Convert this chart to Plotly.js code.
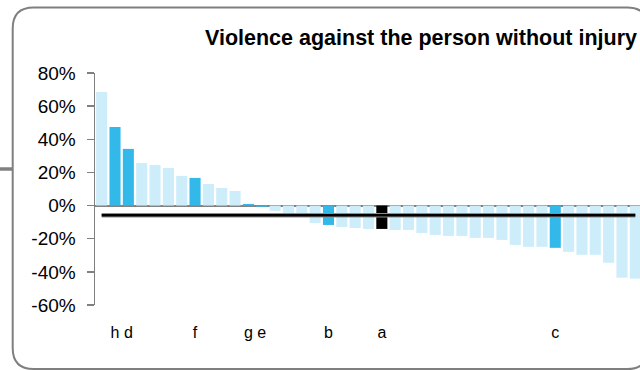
<!DOCTYPE html>
<html>
<head>
<meta charset="utf-8">
<script src="https://cdn.plot.ly/plotly-3.0.1.min.js"></script>
<style>
  html, body { margin: 0; padding: 0; overflow: hidden; background: #fff; }
  #chart { width: 642px; height: 370px; }
</style>
</head>
<body>
<div id="chart"></div>
<script>
// ---- data ----
const titleText = 'Violence against the person without injury';
const labels = ['', 'h', 'd', '', '', '', '', 'f', '', '', '', 'g', 'e', '', '', '', '', 'b', '', '', '',
                'a', '', '', '', '', '', '', '', '', '', '', '', '', 'c', '', '', '', '', '', ''];
const values = [68.6, 47.4, 34.2, 25.7, 24.5, 22.7, 17.9, 16.7, 13.0, 10.6, 8.8, 1.0, -0.7, -3.2,
                -4.5, -5.1, -10.5, -11.7, -12.9, -13.5, -14.1, -14.1, -14.7, -14.7, -16.5, -17.7,
                -18.3, -18.3, -19.5, -19.5, -20.7, -23.7, -24.9, -24.9, -25.5, -27.9, -29.7, -29.7,
                -34.5, -43.5, -44.1];
const selected = ['a'];          // drawn in black
const meanValue = -5.9;
const yTickVals = [-60, -40, -20, 0, 20, 40, 60, 80];

// ---- styling ----
const LIGHT = '#CCEDF9', DARK = '#33B9E9', BLACK = '#000000';
const W = 642, H = 370;
const M = {l: 95, r: 0, t: 73, b: 65};
const pw = W - M.l - M.r, ph = H - M.t - M.b;
const px = x => (x - M.l) / pw;           // pixel -> paper
const py = y => (H - M.b - y) / ph;

const idx = values.map((_, i) => i);
const colors = labels.map(l => l === '' ? LIGHT : (selected.includes(l) ? BLACK : DARK));

const bars = {
  type: 'bar', x: idx, y: values,
  marker: {color: colors, line: {width: 0}},
  hoverinfo: 'skip', showlegend: false
};
const meanX = [idx[0], idx[idx.length - 1]];
const meanHalo = {
  type: 'scatter', mode: 'lines', x: meanX, y: [meanValue, meanValue],
  line: {color: '#8c8c8c', width: 4.5}, hoverinfo: 'skip', showlegend: false
};
const meanLine = {
  type: 'scatter', mode: 'lines', x: meanX, y: [meanValue, meanValue],
  line: {color: '#000', width: 2.5}, hoverinfo: 'skip', showlegend: false
};

// rounded frame (pixel geometry converted to paper)
function framePath() {
  const L = 12.7, T = 7.5, R = 648, B = 369, r = 21;
  const p = (x, y) => px(x).toFixed(5) + ',' + py(y).toFixed(5);
  return 'M' + p(L, T + r) + ' Q' + p(L, T) + ' ' + p(L + r, T) +
         ' L' + p(R - r, T) + ' Q' + p(R, T) + ' ' + p(R, T + r) +
         ' L' + p(R, B - r) + ' Q' + p(R, B) + ' ' + p(R - r, B) +
         ' L' + p(L + r, B) + ' Q' + p(L, B) + ' ' + p(L, B - r) + ' Z';
}

const layout = {
  width: W, height: H,
  margin: M,
  paper_bgcolor: 'rgba(0,0,0,0)', plot_bgcolor: 'rgba(0,0,0,0)',
  font: {family: '"Liberation Sans", Arial, sans-serif', color: '#000'},
  title: {
    text: '<b>' + titleText + '</b>',
    font: {size: 21.5, color: '#000', family: '"Liberation Sans", Arial, sans-serif'},
    xref: 'paper', x: px(421), xanchor: 'center',
    yref: 'container', y: 1 - 37 / H, yanchor: 'middle'
  },
  bargap: 0.17,
  xaxis: {
    range: [-0.5, values.length - 0.5],
    tickmode: 'array', tickvals: idx, ticktext: labels,
    ticks: '', showgrid: false, zeroline: false, showline: false,
    tickfont: {size: 16, color: '#000'},
    ticklabelstandoff: 16, fixedrange: true
  },
  yaxis: {
    range: [-60, 80],
    tickmode: 'array', tickvals: yTickVals,
    ticktext: yTickVals.map(v => v + '%'),
    ticks: 'outside', ticklen: 7, tickwidth: 1.5, tickcolor: '#808080',
    showline: true, linecolor: '#808080', linewidth: 1.5,
    showgrid: false,
    zeroline: true, zerolinecolor: 'rgba(90,90,90,0.75)', zerolinewidth: 2,
    layer: 'above traces',
    tickfont: {size: 19, color: '#000'},
    ticklabelstandoff: 7, fixedrange: true
  },
  shapes: [
    {type: 'path', xref: 'paper', yref: 'paper', path: framePath(),
     line: {color: '#7f7f7f', width: 2}, fillcolor: 'rgba(0,0,0,0)', layer: 'below'},
    {type: 'line', xref: 'paper', yref: 'paper', x0: px(0), x1: px(12.7), y0: py(169), y1: py(169),
     line: {color: '#808080', width: 3.5}}
  ]
};

Plotly.newPlot('chart', [bars, meanHalo, meanLine], layout, {staticPlot: true, displayModeBar: false});
</script>
</body>
</html>
